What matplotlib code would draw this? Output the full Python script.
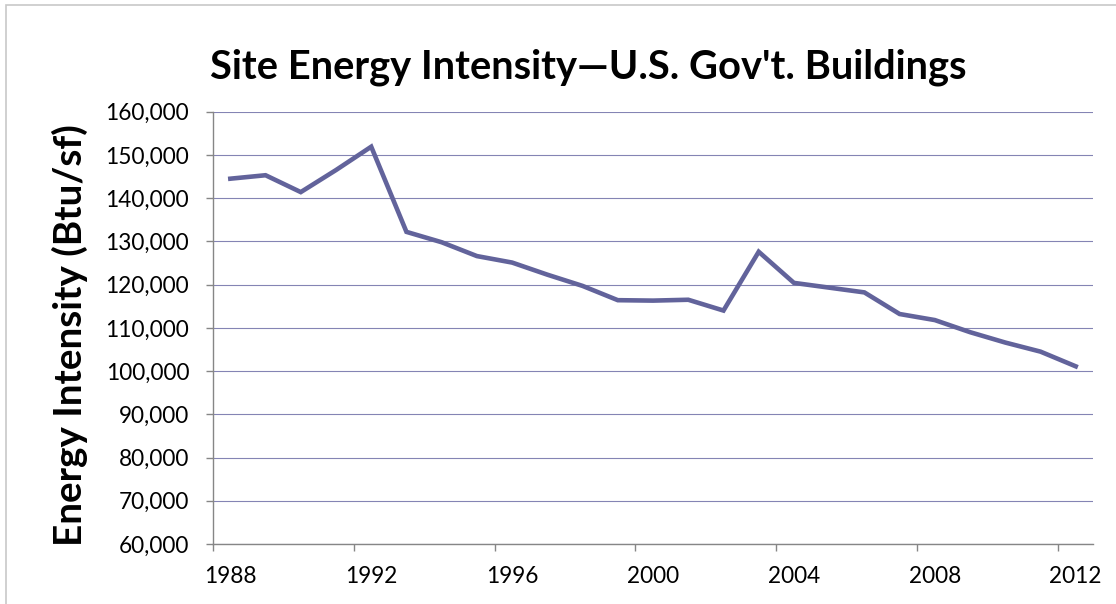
import matplotlib
matplotlib.use('Agg')
import matplotlib.pyplot as plt
from matplotlib.patches import Rectangle

years = [1988, 1989, 1990, 1991, 1992, 1993, 1994, 1995, 1996, 1997, 1998, 1999,
         2000, 2001, 2002, 2003, 2004, 2005, 2006, 2007, 2008, 2009, 2010, 2011, 2012]
intensity = [144500, 145300, 141400, 146500, 151900, 132200, 129800, 126600, 125100,
             122300, 119700, 116400, 116300, 116500, 114000, 127600, 120400, 119300,
             118200, 113200, 111800, 109000, 106600, 104500, 101100]
y_ticks = [60000, 70000, 80000, 90000, 100000, 110000, 120000, 130000, 140000, 150000, 160000]
title = "Site Energy Intensity\u2014U.S. Gov't. Buildings"
ylabel = 'Energy Intensity (Btu/sf)'

font = 'Lato'

fig = plt.figure(figsize=(11.16, 6.04), dpi=100)
fig.patches.append(Rectangle((6 / 1116, -0.1), 1.2, 1.1 - 5 / 604, transform=fig.transFigure,
                             fill=False, edgecolor='#c8c8c8', linewidth=1.2))

ax = fig.add_axes([0.1906, 0.0993, 0.7891, 0.7158])
x = list(range(len(years)))
ax.plot(x, intensity, color='#62639b', linewidth=3.3, solid_joinstyle='miter', zorder=3)

ax.set_xlim(-0.5, len(years) - 0.5)
ax.set_ylim(y_ticks[0], y_ticks[-1])
ax.set_yticks(y_ticks)
ax.set_yticklabels([f'{v:,}' for v in y_ticks], fontfamily=font, fontsize=16.3)
ax.yaxis.grid(True, color='#8484b4', linewidth=0.8)
ax.set_axisbelow(True)

# tick marks between categories, labels every 4th year
ax.set_xticks([i - 0.5 for i in x[::4]])
ax.set_xticklabels([])
ax.set_xticks(x[::4], minor=True)
ax.set_xticklabels([str(years[i]) for i in x[::4]], minor=True, fontfamily=font, fontsize=16.3)
ax.tick_params(axis='x', which='major', length=5, width=1, color='#868686', direction='out')
ax.tick_params(axis='x', which='minor', length=0, pad=16)
ax.tick_params(axis='y', length=5, width=1, color='#868686', pad=12)

for s in ['top', 'right']:
    ax.spines[s].set_visible(False)
for s in ['left', 'bottom']:
    ax.spines[s].set_color('#868686')
    ax.spines[s].set_linewidth(1)
    ax.spines[s].set_zorder(2.5)

fig.text(0.527, 1 - 79 / 604, title, ha='center', va='baseline', fontsize=28.7,
         fontweight='bold', fontfamily=font)
fig.text(70 / 1116, 1 - 335 / 604, ylabel, ha='center', va='center', rotation=90,
         fontsize=27.8, fontweight='bold', fontfamily=font)

fig.savefig('out.png', dpi=100)
